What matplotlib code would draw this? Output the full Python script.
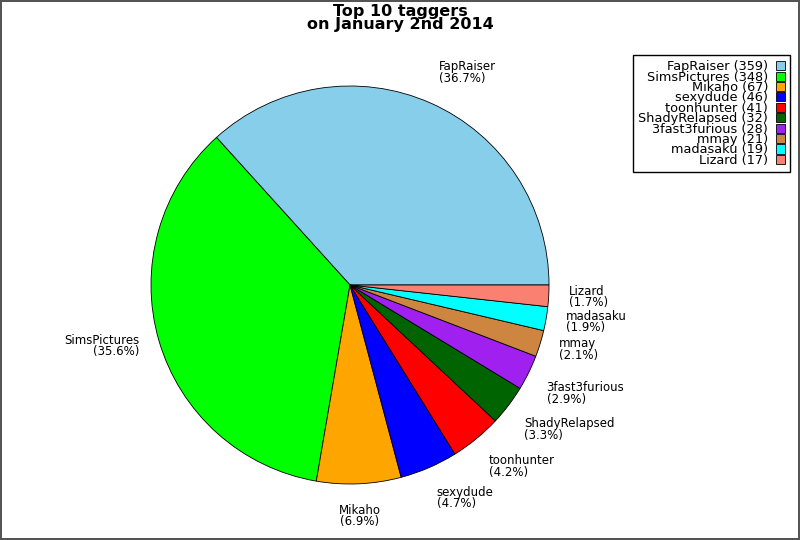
import numpy as np
import matplotlib
matplotlib.use("Agg")
import matplotlib.pyplot as plt

### data
names = ["FapRaiser", "SimsPictures", "Mikaho", "sexydude", "toonhunter",
         "ShadyRelapsed", "3fast3furious", "mmay", "madasaku", "Lizard"]
counts = [359, 348, 67, 46, 41, 32, 28, 21, 19, 17]
colors = ["#87ceeb", "#00ff00", "#ffa500", "#0000ff", "#ff0000",
          "#006400", "#a020f0", "#cd853f", "#00ffff", "#fa8072"]

total = float(sum(counts))
pie_labels = [f"{n}\n({100 * c / total:.1f}%)" for n, c in zip(names, counts)]
legend_labels = [f"{n} ({c})" for n, c in zip(names, counts)]

fig = plt.figure(figsize=(8, 5.4), dpi=100)
fig.patch.set_edgecolor("#555555")
fig.patch.set_linewidth(1.5)

# pie centre ~ (350, 285) px, radius ~199 px
r_px = 199
ax = fig.add_axes([(350 - r_px) / 800, (540 - 285 - r_px) / 540,
                   2 * r_px / 800, 2 * r_px / 540])
wedges, texts = ax.pie(counts, labels=pie_labels, colors=colors,
                       startangle=0, counterclock=True, labeldistance=1.1,
                       wedgeprops=dict(edgecolor="black", linewidth=0.6),
                       textprops=dict(fontsize=8.5, linespacing=0.85))
ax.set_xlim(-1, 1)
ax.set_ylim(-1, 1)
ax.set_aspect("auto")

# label alignment depends on where the label sits round the pie
for w, t in zip(wedges, texts):
    a = np.deg2rad((w.theta1 + w.theta2) / 2)
    c, s = np.cos(a), np.sin(a)
    t.set_ha("left" if c > 0.1 else ("right" if c < -0.1 else "center"))
    t.set_va("bottom" if s > 0.4 else ("top" if s < -0.4 else "center"))
    t.set_clip_on(False)

fig.text(0.5, 1 - 18 / 540, "Top 10 taggers\non January 2nd 2014",
         ha="center", va="center", fontsize=11.5, fontweight="bold",
         linespacing=0.85)

leg = fig.legend(wedges, legend_labels, loc="upper right",
                 bbox_to_anchor=(790 / 800, 1 - 55 / 540),
                 borderaxespad=0, markerfirst=False, fontsize=9.3,
                 fancybox=False, edgecolor="black", framealpha=1,
                 handlelength=0.7, handleheight=0.7, handletextpad=0.6,
                 labelspacing=-0.2, borderpad=0.4)
leg.get_frame().set_linewidth(1)

fig.savefig("out.png", dpi=100, facecolor="white", edgecolor="#555555")
